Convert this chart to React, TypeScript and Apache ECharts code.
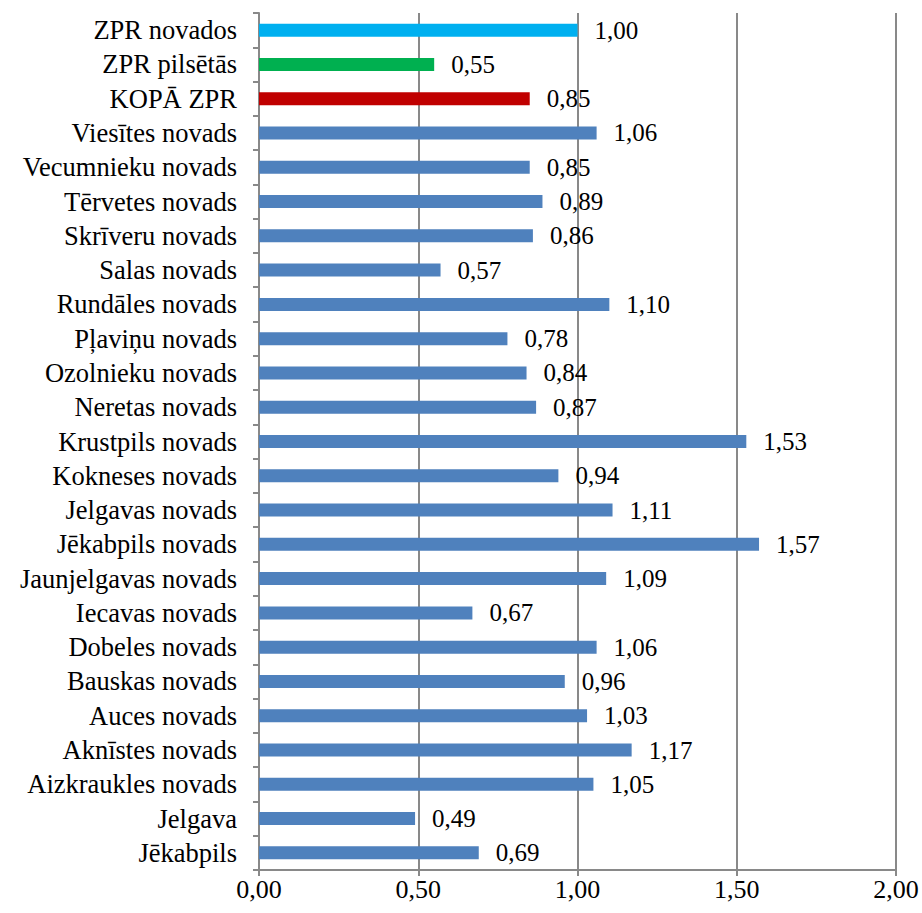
import React, { useEffect, useRef } from "react";
import * as echarts from "echarts";

const categories = [
  "ZPR novados",
  "ZPR pilsētās",
  "KOPĀ ZPR",
  "Viesītes novads",
  "Vecumnieku novads",
  "Tērvetes novads",
  "Skrīveru novads",
  "Salas novads",
  "Rundāles novads",
  "Pļaviņu novads",
  "Ozolnieku novads",
  "Neretas novads",
  "Krustpils novads",
  "Kokneses novads",
  "Jelgavas novads",
  "Jēkabpils novads",
  "Jaunjelgavas novads",
  "Iecavas novads",
  "Dobeles novads",
  "Bauskas novads",
  "Auces novads",
  "Aknīstes novads",
  "Aizkraukles novads",
  "Jelgava",
  "Jēkabpils",
];

const values = [
  1.0, 0.55, 0.85, 1.06, 0.85, 0.89, 0.86, 0.57, 1.1, 0.78, 0.84, 0.87, 1.53,
  0.94, 1.11, 1.57, 1.09, 0.67, 1.06, 0.96, 1.03, 1.17, 1.05, 0.49, 0.69,
];

const specialColors: Record<string, string> = {
  "ZPR novados": "#00B0F0",
  "ZPR pilsētās": "#00B050",
  "KOPĀ ZPR": "#C00000",
};
const defaultColor = "#4F81BD";

const xTicks = [0, 0.5, 1, 1.5, 2];

const fmt = (v: number) => v.toFixed(2).replace(".", ",");

export default function App() {
  const ref = useRef<HTMLDivElement>(null);
  useEffect(() => {
    if (!ref.current) return;
    const chart = echarts.init(ref.current, undefined, { renderer: "svg" });
    const font = "Liberation Serif";
    const gridColor = "#898989";
    chart.setOption({
      animation: false,
      backgroundColor: "#ffffff",
      textStyle: { fontFamily: font },
      grid: { left: 259, right: 26, top: 13, bottom: 43, containLabel: false },
      xAxis: {
        type: "value",
        min: xTicks[0],
        max: xTicks[xTicks.length - 1],
        interval: 0.5,
        axisLine: { show: true, lineStyle: { color: gridColor, width: 2 } },
        axisTick: { show: true, length: 6, lineStyle: { color: gridColor, width: 2 } },
        splitLine: { show: true, lineStyle: { color: gridColor, width: 2 } },
        axisLabel: {
          formatter: (v: number) => fmt(v),
          fontFamily: font,
          fontSize: 26,
          color: "#000",
          margin: 6,
        },
      },
      yAxis: {
        type: "category",
        inverse: true,
        data: categories,
        axisLine: { show: true, lineStyle: { color: gridColor, width: 2 } },
        axisTick: { show: true, interval: 0, length: 6, lineStyle: { color: gridColor, width: 2 } },
        axisLabel: {
          interval: 0,
          fontFamily: font,
          fontSize: 26.5,
          color: "#000",
          margin: 22,
        },
      },
      series: [
        {
          type: "bar",
          barWidth: 13,
          data: values.map((v, i) => ({
            value: v,
            itemStyle: { color: specialColors[categories[i]] || defaultColor },
          })),
          label: {
            show: true,
            position: "right",
            distance: 17,
            formatter: (p: any) => fmt(p.value),
            fontFamily: font,
            fontSize: 25,
            color: "#000",
          },
        },
      ],
    });
    return () => chart.dispose();
  }, []);
  return (
    <div
      ref={ref}
      style={{ position: "fixed", left: 0, top: 0, width: 922, height: 913 }}
    />
  );
}
